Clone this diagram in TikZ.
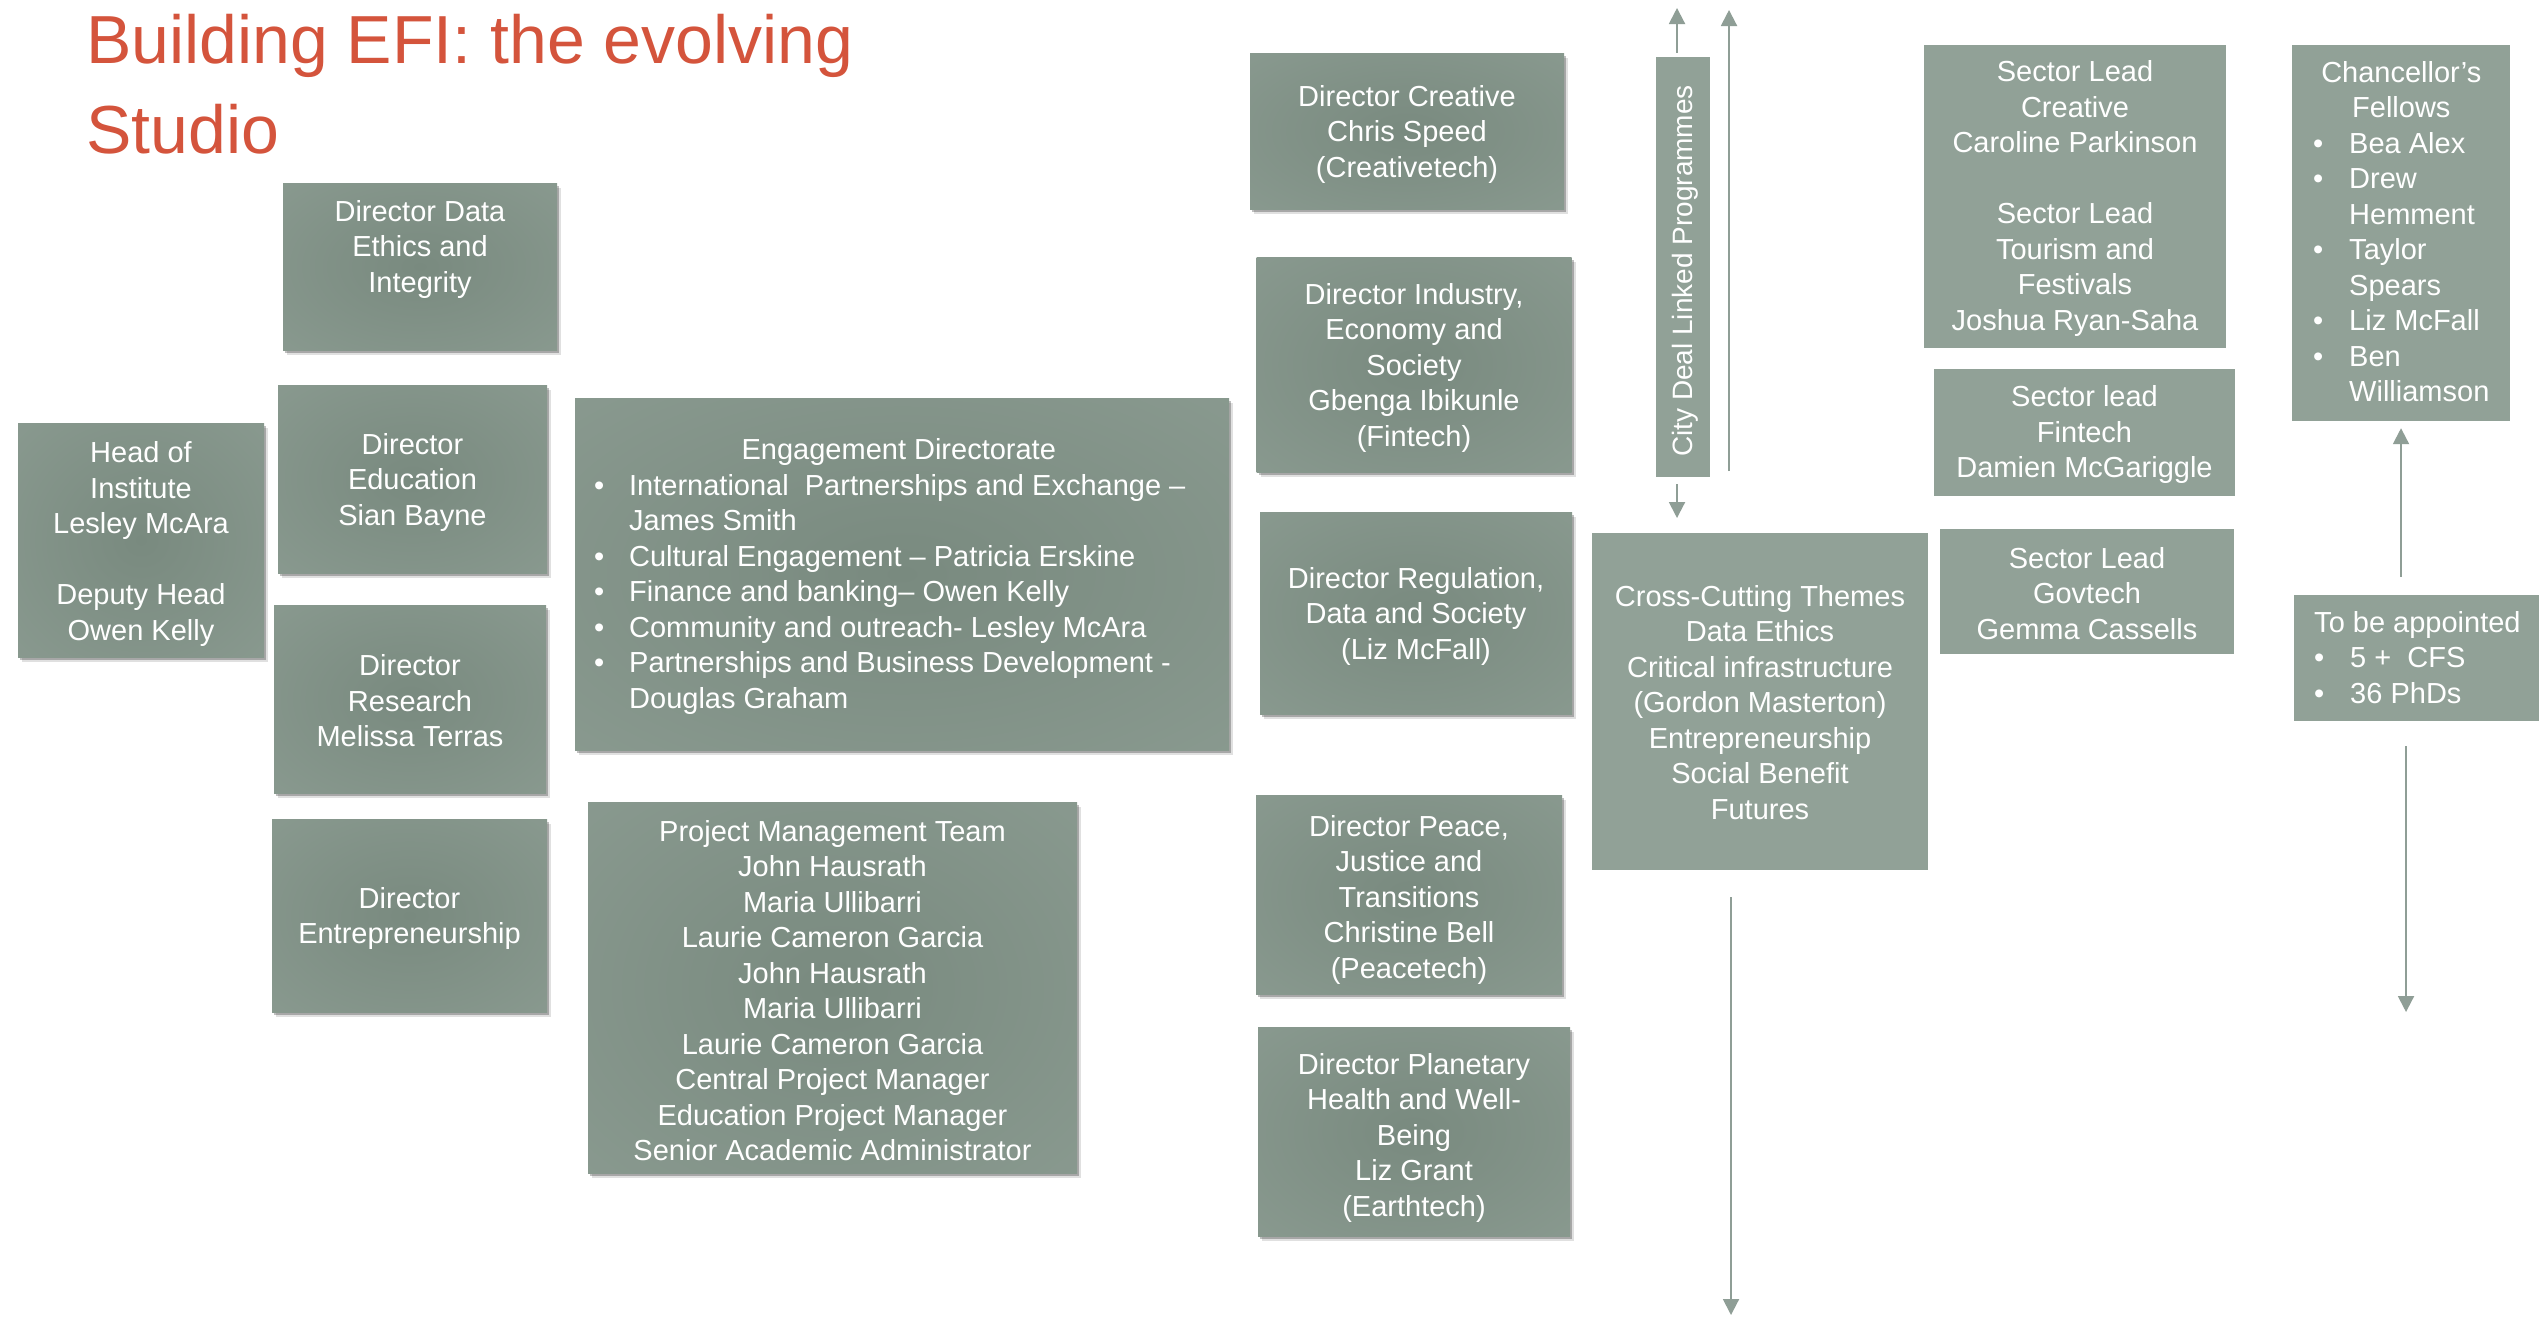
\documentclass[tikz,border=0pt]{standalone}
\usepackage{fontspec}
\setmainfont{Liberation Sans}
\usetikzlibrary{arrows.meta,shadows}
\definecolor{gedge}{RGB}{143,159,149}
\definecolor{gcenter}{RGB}{121,138,127}
\definecolor{gcorner}{RGB}{150,165,156}
\definecolor{flatc}{RGB}{145,161,151}
\definecolor{titlec}{RGB}{212,84,60}
\definecolor{arrc}{RGB}{143,158,150}
\pgfdeclareradialshading{boxshade}{\pgfpoint{0bp}{0bp}}{color(0bp)=(gcenter); color(50bp)=(gedge); color(72bp)=(gcorner)}
\newcommand{\boxfont}{\fontsize{29}{35.5}\selectfont}
\newcommand{\cityfont}{\fontsize{28}{34}\selectfont}
\newcommand{\titlefont}{\fontsize{68}{80}\selectfont}
\tikzset{
  gbox/.style={rectangle, inner sep=0pt, shading=boxshade,
    drop shadow={shadow xshift=2pt, shadow yshift=-3pt, fill=black, opacity=0.25},
    drop shadow={shadow xshift=4pt, shadow yshift=-5pt, fill=black, opacity=0.12}},
  fbox/.style={rectangle, inner sep=0pt, fill=flatc},
  txt/.style={text=white, font=\boxfont, align=center, inner sep=0pt},
  arr/.style={draw=arrc, line width=2pt, -{Triangle[width=16pt,length=16pt]}},
  ttl/.style={anchor=base west, inner sep=0pt, text=titlec, font=\titlefont}
}
% #1 text drop (pt), #2 style, #3 name, #4 centre, #5 width, #6 height, #7 text
\newcommand{\tbox}[7][3]{%
  \node[#2, minimum width=#5pt, minimum height=#6pt] (#3) at (#4) {};
  \node[txt] (#3T) at ([yshift=-#1pt]#3.center) {#7};}
\begin{document}
\begin{tikzpicture}[x=1pt,y=-1pt]
\useasboundingbox (0,0) rectangle (2539,1318);
\fill[white] (0,0) rectangle (2539,1318);

% title
\node[ttl] (title1) at (86,63) {Building EFI: the evolving};
\node[ttl] (title2) at (86,153) {Studio};

% left column
\node[gbox, minimum width=274pt, minimum height=167pt] (dataeth) at (420,266.5) {};
\node[txt] (dataethT) at (420,249) {Director Data\\Ethics and\\Integrity};
\tbox[4]{gbox}{head}{141,540}{246}{234}{Head of\\Institute\\Lesley McAra\\\mbox{}\\Deputy Head\\Owen Kelly}
\tbox{gbox}{edu}{412.5,479}{269}{188}{Director\\Education\\Sian Bayne}
\tbox[2]{gbox}{res}{410,699}{272}{188}{Director\\Research\\Melissa Terras}
\tbox{gbox}{ent}{409.5,915.5}{275}{193}{Director\\Entrepreneurship}

% middle
\node[gbox, minimum width=654pt, minimum height=352pt] (eng) at (902,574) {};
\node[txt, anchor=west] (engT) at (594,577) {%
\begin{tabular}{@{}p{35pt}@{}l@{}}
\multicolumn{2}{c}{\hspace*{18pt}Engagement Directorate}\\
\textbullet&International\ \ Partnerships and Exchange –\\
&James Smith\\
\textbullet&Cultural Engagement – Patricia Erskine\\
\textbullet&Finance and banking– Owen Kelly\\
\textbullet&Community and outreach- Lesley McAra\\
\textbullet&Partnerships and Business Development -\\
&Douglas Graham
\end{tabular}};
\tbox{gbox}{pmt}{832.5,987.5}{489}{371}{Project Management Team\\John Hausrath\\Maria Ullibarri\\Laurie Cameron Garcia\\John Hausrath\\Maria Ullibarri\\Laurie Cameron Garcia\\Central Project Manager\\Education Project Manager\\Senior Academic Administrator}

% directors column
\tbox{gbox}{creat}{1407,131}{314}{156}{Director Creative\\Chris Speed\\(Creativetech)}
\tbox{gbox}{ind}{1414,364.5}{315}{215}{Director Industry,\\Economy and\\Society\\Gbenga Ibikunle\\(Fintech)}
\tbox{gbox}{reg}{1416,613}{312}{202}{Director Regulation,\\Data and Society\\(Liz McFall)}
\tbox[5]{gbox}{peace}{1409,894.5}{306}{199}{Director Peace,\\Justice and\\Transitions\\Christine Bell\\(Peacetech)}
\tbox[6]{gbox}{planet}{1414,1131.5}{312}{209}{Director Planetary\\Health and Well-\\Being\\Liz Grant\\(Earthtech)}

% city deal
\node[fbox, minimum width=54pt, minimum height=420pt] (city) at (1683,267) {};
\node[txt, rotate=90, font=\cityfont] (cityT) at (1685,271) {City Deal Linked Programmes};
\tbox[1]{fbox}{cross}{1760,701.5}{336}{337}{Cross-Cutting Themes\\Data Ethics\\Critical infrastructure\\(Gordon Masterton)\\Entrepreneurship\\Social Benefit\\Futures}

% sector leads
\tbox[2]{fbox}{seccre}{2075,196.5}{302}{303}{Sector Lead\\Creative\\Caroline Parkinson\\\mbox{}\\Sector Lead\\Tourism and\\Festivals\\Joshua Ryan-Saha}
\tbox[2]{fbox}{secfin}{2084.5,432.5}{301}{127}{Sector lead\\Fintech\\Damien McGariggle}
\tbox[2]{fbox}{secgov}{2087,591.5}{294}{125}{Sector Lead\\Govtech\\Gemma Cassells}

% chancellor's fellows
\node[fbox, minimum width=218pt, minimum height=376pt] (chanc) at (2401,233) {};
\node[txt, anchor=west] (chancT) at (2313,235) {%
\begin{tabular}{@{}p{36pt}@{}l@{}}
\multicolumn{2}{c}{Chancellor’s}\\
\multicolumn{2}{c}{Fellows}\\
\textbullet&Bea Alex\\
\textbullet&Drew\\
&Hemment\\
\textbullet&Taylor\\
&Spears\\
\textbullet&Liz McFall\\
\textbullet&Ben\\
&Williamson
\end{tabular}};
\node[fbox, minimum width=256pt, minimum height=126pt] (tba) at (2422,658) {};
\node[txt, anchor=west] (tbaT) at (2314,660.5) {%
\begin{tabular}{@{}p{36pt}@{}l@{}}
\multicolumn{2}{@{}l@{}}{To be appointed}\\
\textbullet&5 +\ \ CFS\\
\textbullet&36 PhDs
\end{tabular}};

% arrows
\coordinate (cdtop) at (1677,8);
\coordinate (cdbot) at (1677,518);
\coordinate (upA) at (1729,471);
\coordinate (upB) at (1729,10);
\coordinate (dnB) at (1731,1315);
\coordinate (tbadn) at (2406,1012);
\draw[arr, shorten <=4pt] (city.north -| cdtop) -- (cdtop);
\draw[arr, shorten <=7pt] (city.south -| cdbot) -- (cdbot);
\draw[arr] (upA) -- (upB);
\draw[arr, shorten <=27pt] (cross.south -| dnB) -- (dnB);
\draw[arr, shorten <=18pt, shorten >=7pt] (tba.north -| chanc.south) -- (chanc.south);
\draw[arr, shorten <=25pt] (tba.south -| tbadn) -- (tbadn);
\end{tikzpicture}
\end{document}
